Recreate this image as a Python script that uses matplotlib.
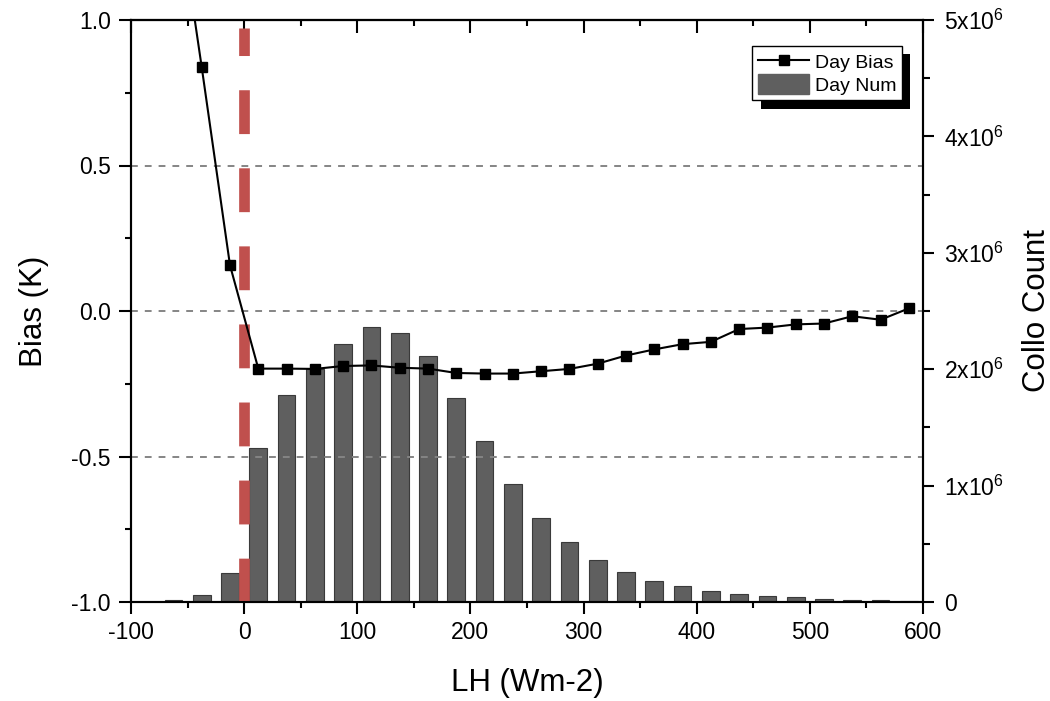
import matplotlib
matplotlib.use("Agg")
import matplotlib.pyplot as plt
import matplotlib.patheffects as pe
from matplotlib.ticker import MultipleLocator
from matplotlib.lines import Line2D
from matplotlib.patches import Patch

plt.rcParams['font.family'] = ['Liberation Sans', 'DejaVu Sans']
plt.rcParams['mathtext.fontset'] = 'custom'
plt.rcParams['mathtext.rm'] = 'Liberation Sans'
plt.rcParams['mathtext.it'] = 'Liberation Sans:italic'
plt.rcParams['mathtext.default'] = 'regular'
plt.rcParams['axes.unicode_minus'] = False

# ---- data ----
lh_bins = [-62.5, -37.5, -12.5, 12.5, 37.5, 62.5, 87.5, 112.5, 137.5, 162.5,
           187.5, 212.5, 237.5, 262.5, 287.5, 312.5, 337.5, 362.5, 387.5,
           412.5, 437.5, 462.5, 487.5, 512.5, 537.5, 562.5, 587.5]
day_bias = [1.50, 0.838, 0.157, -0.198, -0.198, -0.199, -0.189, -0.187, -0.195,
            -0.198, -0.213, -0.215, -0.215, -0.207, -0.199, -0.181, -0.153,
            -0.132, -0.114, -0.106, -0.062, -0.057, -0.046, -0.043, -0.018,
            -0.030, 0.009]
day_num = [0.020e6, 0.064e6, 0.25e6, 1.323e6, 1.776e6, 2.005e6, 2.22e6, 2.363e6,
           2.311e6, 2.111e6, 1.753e6, 1.38e6, 1.014e6, 0.725e6, 0.515e6,
           0.361e6, 0.261e6, 0.184e6, 0.137e6, 0.095e6, 0.066e6, 0.052e6,
           0.040e6, 0.029e6, 0.020e6, 0.016e6, 0.012e6]
x_ticks = [-100, 0, 100, 200, 300, 400, 500, 600]
bias_ticks = [-1.0, -0.5, 0.0, 0.5, 1.0]
bias_ticklabels = ['-1.0', '-0.5', '0.0', '0.5', '1.0']
count_ticks = [0, 1e6, 2e6, 3e6, 4e6, 5e6]
count_ticklabels = ['0', r'1x10$^6$', r'2x10$^6$', r'3x10$^6$', r'4x10$^6$', r'5x10$^6$']

fig = plt.figure(figsize=(10.5, 7.01), dpi=100)
ax = fig.add_axes([131/1050, 1 - 602/701, 792/1050, 582/701])
ax2 = ax.twinx()
ax.set_zorder(ax2.get_zorder() + 1)
ax.patch.set_visible(False)

# bars on right axis
ax2.bar(lh_bins, day_num, width=15.6, color='#5f5f5f', edgecolor='#3a3a3a',
        linewidth=0.8, zorder=1)
ax2.set_ylim(0, 5e6)
ax2.set_yticks(count_ticks)
ax2.set_yticklabels(count_ticklabels)
ax2.yaxis.set_minor_locator(MultipleLocator(0.5e6))

# gridlines on left axis
for yv in [-0.5, 0.0, 0.5]:
    ax.axhline(yv, color='#858585', lw=1.4, ls=(0, (3.5, 3.6)), zorder=1)

# red dashed vertical line at 0
ax.axvline(0, ymin=0, ymax=0.986, color='#c0504d', lw=7.7,
           dashes=(4.1, 3.2), solid_capstyle='butt', dash_capstyle='butt', zorder=2)

# bias line
ax.plot(lh_bins, day_bias, color='black', lw=1.5, marker='s', ms=7.5,
        markeredgecolor='black', zorder=3)

ax.set_xlim(-100, 600)
ax.set_ylim(-1.0, 1.0)
ax.set_xticks(x_ticks)
ax.xaxis.set_minor_locator(MultipleLocator(50))
ax.set_yticks(bias_ticks)
ax.set_yticklabels(bias_ticklabels)
ax.yaxis.set_minor_locator(MultipleLocator(0.25))

for a in (ax, ax2):
    for s in a.spines.values():
        s.set_linewidth(1.5)
        s.set_color('black')

ax.tick_params(axis='both', which='major', direction='out', length=8.5, width=1.5,
               labelsize=16.5, pad=5.5, colors='black')
ax.tick_params(axis='both', which='minor', direction='out', length=4.5, width=1.5)
ax.tick_params(axis='y', which='major', pad=6.0)
ax2.tick_params(axis='y', which='major', direction='out', length=8, width=1.5,
                labelsize=16.5, pad=7)
ax2.tick_params(axis='y', which='minor', direction='out', length=5, width=1.5)

# top inward ticks
sec = ax.secondary_xaxis('top')
sec.set_xticks(x_ticks)
sec.xaxis.set_minor_locator(MultipleLocator(50))
sec.tick_params(axis='x', which='major', direction='in', length=9, width=1.5, labeltop=False)
sec.tick_params(axis='x', which='minor', direction='in', length=4, width=1.5)
sec.spines['top'].set_linewidth(1.5)

ax.set_xlabel('LH (Wm-2)', fontsize=22.5)
ax.xaxis.set_label_coords(0.5, -(668 - 602) / 582)
ax.set_ylabel('Bias (K)', fontsize=22.5)
ax.yaxis.set_label_coords((49 - 131) / 792, 0.5)
ax2.set_ylabel('Collo Count', fontsize=22.5)
ax2.yaxis.set_label_coords((1022 - 131) / 792, 0.5)

handles = [Line2D([], [], color='black', lw=1.5, marker='s', ms=7, markeredgecolor='black'),
           Patch(facecolor='#5f5f5f', edgecolor='#5f5f5f')]
leg = ax.legend(handles, ['Day Bias', 'Day Num'], loc='upper right',
                bbox_to_anchor=((902 - 131) / 792, (602 - 46) / 582),
                borderaxespad=0, fancybox=False, framealpha=1, edgecolor='black',
                fontsize=14, handlelength=2.6, handleheight=1.15, labelspacing=0.12,
                borderpad=0.3, handletextpad=0.3)
leg.get_frame().set_linewidth(1.0)
leg.get_frame().set_path_effects([
    pe.SimplePatchShadow(offset=(5.8, -5.8), shadow_rgbFace='black', alpha=1.0),
    pe.Normal()])
leg.set_zorder(10)

fig.savefig('out.png', dpi=100, facecolor='white')
